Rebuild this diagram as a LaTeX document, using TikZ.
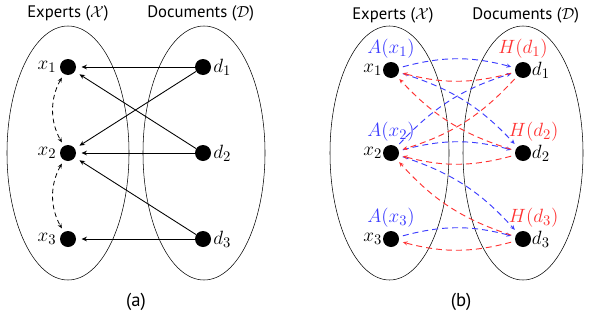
\documentclass[tikz,border=0pt]{standalone}
\usepackage{amsmath,amssymb}
\usepackage{fontspec}
\setmainfont{PT Sans}
\usepackage{tikz}
\usetikzlibrary{arrows.meta,positioning}
\usepackage{xcolor}
\definecolor{hubblue}{RGB}{60,60,255}
\definecolor{authred}{RGB}{255,50,50}

\tikzset{
  dot/.style={circle,fill=black,inner sep=0pt,minimum size=12pt},
  setell/.style={line width=0.4pt},
  mlab/.style={font=\fontsize{15}{17}\selectfont},
  cite/.style={-{Stealth[length=4pt,width=3.5pt]},line width=0.65pt,shorten >=4pt},
  swap/.style={{Stealth[length=3.5pt,width=3pt]}-{Stealth[length=3.5pt,width=3pt]},line width=0.6pt,dash pattern=on 3.5pt off 2.5pt,shorten >=3pt,shorten <=3pt},
  flow/.style={-{Stealth[length=3.5pt,width=3pt]},line width=0.7pt,dash pattern=on 4.5pt off 3pt,shorten >=3pt,shorten <=3pt}
}

\begin{document}
\begin{tikzpicture}[x=0.75pt,y=0.75pt,font=\fontsize{12.5}{15}\selectfont]
    \useasboundingbox (0,0) rectangle (595,326);
    % (a)
    \draw[setell] (68,173) ellipse (61 and 127);
    \draw[setell] (204,173) ellipse (61 and 127);
    \node[anchor=west,inner sep=0pt] (expa) at (27,313) {Experts ($\mathcal{X}$)};
    \node[anchor=west,inner sep=0pt] (doca) at (147,313) {Documents ($\mathcal{D}$)};
    \foreach \i/\y in {1/259,2/173,3/87} {
      \node[dot,label={[mlab,label distance=-1pt]left:$x_{\i}$}] (xa\i) at (68,\y) {};
      \node[dot,label={[mlab,label distance=-2pt]right:$d_{\i}$}] (da\i) at (203,\y) {};
    }
    \foreach \s/\t in {1/1,1/2,2/1,2/2,3/2,3/3}
      \draw[cite] (da\s) -- (xa\t);
    \draw[swap] (xa1) to[bend right=30] (xa2);
    \draw[swap] (xa2) to[bend right=30] (xa3);
    \node[font=\fontsize{14}{16}\selectfont] (capa) at (136,24) {(a)};
    % (b)
    \draw[setell] (389.5,173) ellipse (59.5 and 127);
    \draw[setell] (523,173) ellipse (60 and 127);
    \node[anchor=west,inner sep=0pt] (expb) at (352,311) {Experts ($\mathcal{X}$)};
    \node[anchor=west,inner sep=0pt] (docb) at (472,311) {Documents ($\mathcal{D}$)};
    \foreach \i/\y/\hs in {1/256/0,2/173/8,3/87/8} {
      \node[dot,label={[mlab,label distance=-3pt]left:$x_{\i}$},
        label={[mlab,hubblue,label distance=-1pt]above:$A(x_{\i})$}] (xb\i) at (391,\y) {};
      \node[dot,label={[mlab,label distance=-3pt]right:$d_{\i}$},
        label={[mlab,authred,xshift=\hs pt,label distance=-1pt]above:$H(d_{\i})$}] (db\i) at (523,\y) {};
    }
    \foreach \s/\t in {1/1,1/2,2/1,2/2,2/3,3/3}
      \draw[flow,hubblue] (xb\s) to[bend left=15] (db\t);
    \foreach \s/\t in {1/1,1/2,2/1,2/2,3/2,3/3}
      \draw[flow,authred] (db\s) to[bend left=15] (xb\t);
    \node[font=\fontsize{14}{16}\selectfont] (capb) at (461,24) {(b)};
\end{tikzpicture}
\end{document}
